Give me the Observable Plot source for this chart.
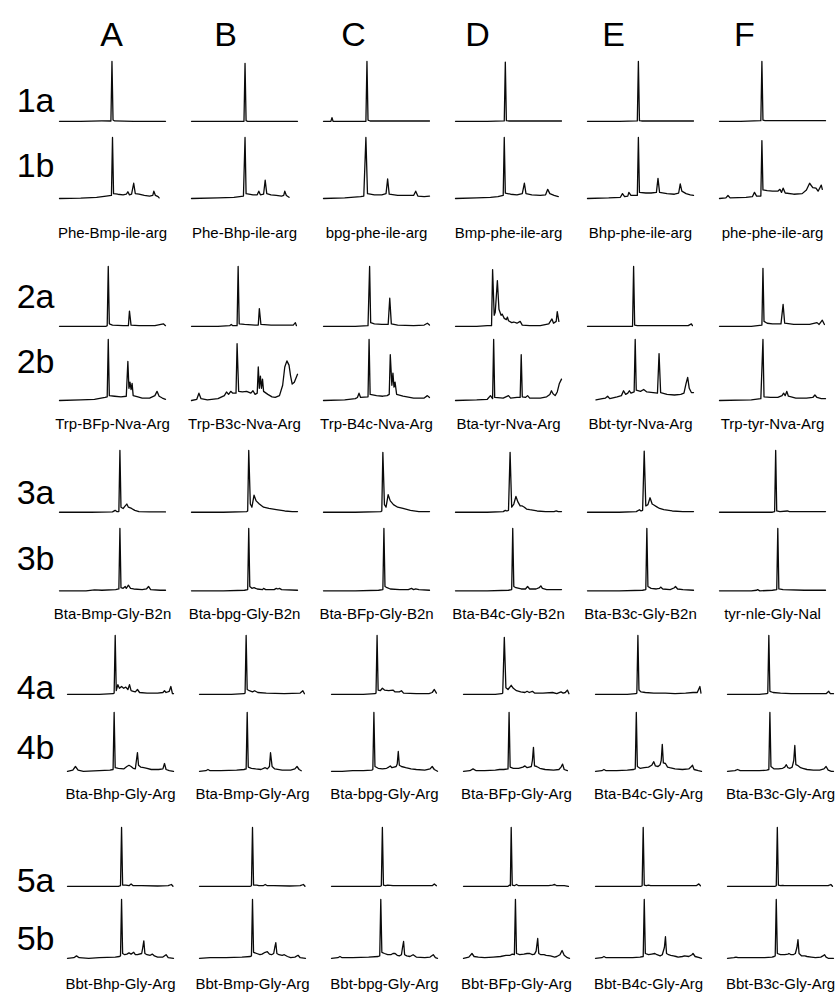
<!DOCTYPE html>
<html><head><meta charset="utf-8">
<script src="https://cdn.jsdelivr.net/npm/d3@7"></script>
<script src="https://cdn.jsdelivr.net/npm/@observablehq/plot@0.6"></script>
<style>
body{margin:0;background:#fff;}
#chart{position:relative;width:840px;height:994px;overflow:hidden;background:#fff}
#chart svg{position:absolute;left:0;}
</style></head><body><div id="chart"></div>
<script>
// ---------- DATA ----------
const columnLetters = ["A","B","C","D","E","F"];
const rowLabels = [["1a","1b"],["2a","2b"],["3a","3b"],["4a","4b"],["5a","5b"]];
const compoundNames = [
  ["Phe-Bmp-ile-arg","Phe-Bhp-ile-arg","bpg-phe-ile-arg","Bmp-phe-ile-arg","Bhp-phe-ile-arg","phe-phe-ile-arg"],
  ["Trp-BFp-Nva-Arg","Trp-B3c-Nva-Arg","Trp-B4c-Nva-Arg","Bta-tyr-Nva-Arg","Bbt-tyr-Nva-Arg","Trp-tyr-Nva-Arg"],
  ["Bta-Bmp-Gly-B2n","Bta-bpg-Gly-B2n","Bta-BFp-Gly-B2n","Bta-B4c-Gly-B2n","Bta-B3c-Gly-B2n","tyr-nle-Gly-Nal"],
  ["Bta-Bhp-Gly-Arg","Bta-Bmp-Gly-Arg","Bta-bpg-Gly-Arg","Bta-BFp-Gly-Arg","Bta-B4c-Gly-Arg","Bta-B3c-Gly-Arg"],
  ["Bbt-Bhp-Gly-Arg","Bbt-Bmp-Gly-Arg","Bbt-bpg-Gly-Arg","Bbt-BFp-Gly-Arg","Bbt-B4c-Gly-Arg","Bbt-B3c-Gly-Arg"]
];
// each trace: flat list of (retention %, relative signal %) pairs, columns A..F
const trace1a = [
  [0,2, 20,2, 40,2.5, 48.5,2.5, 49.5,100, 50.5,4, 52,2.5, 70,2, 100,2],
  [0,2, 30,2, 49.5,2, 50.5,97, 51.5,3, 53,2, 100,2],
  [0,2, 7,2, 8,8, 9,2, 30,2, 40,2, 41,100, 42,4, 44,2.5, 100,2.5],
  [0,2, 30,2, 46,2.5, 47,99, 48,3, 50,2.5, 100,2.5],
  [0,2, 30,2, 47,2.5, 48,100, 49,3, 51,2.5, 100,2.5],
  [0,2, 20,2, 39,3, 40,100, 41,4, 43,3, 100,3]
];
const trace1b = [
  [0,0, 20,0.5, 35,2, 44,4, 49,5, 50,100, 51,8, 55,7, 60,6, 63,7, 64.5,11, 66,6, 68,7, 70,25, 71.5,8, 75,7, 80,5, 85,4, 88,5, 89,12, 90.5,5, 93,3, 94,1],
  [0,0, 25,1, 40,2, 49,4, 50.5,100, 51.5,8, 58,6, 62,6, 63.5,12, 65,6, 68,7, 69.5,30, 71,8, 75,6, 80,5, 85,4, 87,5, 88,12, 89.5,5, 92,2],
  [0,0, 20,1, 35,3, 38,4, 40,100, 41.5,8, 48,6, 55,6, 59,8, 60.5,32, 62,7, 70,5, 80,5, 85,5, 87,12, 89,4, 95,3, 100,4],
  [0,0, 20,1, 33,2, 40,3, 45,5, 46,100, 47,9, 52,7, 58,6, 63,8, 65,25, 66.5,8, 72,6, 80,5, 85,6, 87,15, 89,8, 93,5, 97,3],
  [0,0, 20,1, 31,2, 33,8, 35,3, 38,4, 39,10, 41,5, 47,5, 48,100, 49,10, 55,9, 60,9, 65,10, 66.5,33, 68,10, 75,8, 82,7, 86,9, 87.5,24, 89,12, 93,8, 97,6, 100,5],
  [0,0, 6,1, 8,5, 10,1, 25,2, 31,3, 33,10, 35,4, 39,4, 40,95, 41,14, 45,13, 50,12, 55,12, 57,15, 58.5,10, 60,17, 62,9, 70,7, 78,8, 82,14, 85,25, 88,18, 91,17, 93,12, 96,22, 97,15]
];
const trace2a = [
  [0,2, 30,2, 44,2, 45,3, 46,100, 47,6, 50,4, 60,3, 65,3, 66,27, 67.5,4, 75,3, 90,3, 98,6, 100,3],
  [0,2, 25,2, 36,3, 37.5,5, 39,3, 43,3, 44,100, 45,6, 50,5, 60,4, 63,4, 64,31, 65.5,5, 75,4, 90,4, 96,4, 98,8, 99,3],
  [0,2, 30,2, 42,3, 43.5,100, 44.5,8, 48,6, 55,5, 61,5, 62.5,48, 64,6, 70,4, 85,3, 95,4, 98,7, 100,4],
  [0,2, 20,2, 30,3, 34,3, 35,95, 36.5,20, 37.5,25, 39.5,77, 41,30, 43,20, 44,22, 46,15, 48,13, 49,17, 50,11, 53,8, 55,9, 58,7, 61,10, 63,4, 70,3, 80,3, 88,6, 91,14, 92.5,7, 95,10, 96,26, 97.5,10],
  [0,2, 30,2, 42.5,2, 43.5,100, 44.5,4, 47,3, 70,3, 95,3, 98,6, 99,3],
  [0,2, 30,2, 40,4, 41,97, 42,10, 45,7, 50,6, 58,6, 60,38, 61.5,7, 70,5, 85,5, 92,8, 94,5, 97,12, 99,5]
];
const trace2b = [
  [0,0, 20,1, 33,2, 43,5, 45,6, 46,100, 47,8, 52,7, 58,6, 63,7, 64.5,64, 65.5,20, 66.5,30, 67.5,18, 68.5,28, 69.5,8, 74,6, 78,4, 85,4, 90,8, 92,15, 94,7, 97,4, 100,2],
  [0,0, 5,2, 7,12, 9,3, 15,1, 25,3, 31,8, 33,14, 35,10, 37,15, 39,12, 42,12, 43,93, 44.5,15, 48,14, 52,15, 56,12, 58,16, 60,10, 62,12, 63,55, 64,20, 65,40, 66,20, 67,35, 68,15, 72,10, 76,6, 79,5, 83,8, 86,25, 88,55, 90,65, 92,58, 93.5,40, 95,27, 97,30, 100,43],
  [0,0, 20,1, 30,3, 32,5, 33.5,12, 35,5, 42,6, 43,100, 44,10, 50,8, 56,7, 60,8, 62,10, 63,75, 64.5,25, 65.5,45, 66.5,22, 67.5,30, 69,10, 75,7, 85,4, 95,4, 98,8, 100,5],
  [0,0, 20,1, 30,2, 33,8, 35,3, 36,100, 37,5, 45,4, 50,8, 52,4, 58,5, 61,5, 62,75, 63,6, 66,5, 68,8, 70,4, 80,4, 86,6, 89,10, 90.5,16, 92,11, 94,8, 96,14, 98,28, 100,35],
  [8,1, 14,3, 17,4, 19,7, 21,3, 28,6, 32,8, 34,16, 36,10, 38,12, 39.5,16, 41,12, 44,14, 45,100, 46,17, 50,15, 53,18, 56,14, 62,13, 66,12, 67.5,77, 69,13, 75,10, 82,9, 88,10, 91,12, 93,28, 94.5,38, 96,20, 98,13, 100,13],
  [0,0, 30,1, 39,3, 41,100, 42,6, 48,5, 55,5, 59,8, 60.5,12, 62,8, 63.5,15, 65,7, 72,4, 82,4, 88,5, 90,9, 92,5, 96,3, 100,3]
];
const trace3a = [
  [0,2, 30,2, 50,2.5, 52.5,5, 54,3, 56,3, 57,100, 58,10, 60,8, 62,12, 63.5,15, 65,10, 68,8, 71,5, 75,3, 85,2.5, 100,2.5],
  [0,2, 30,2, 52,3, 53,4, 54,100, 55.5,15, 57,10, 59,29, 61,20, 64,15, 68,10, 73,8, 80,6, 88,4, 95,3, 100,3],
  [0,2, 30,2, 54,3, 55,4, 56,97, 57.5,14, 59,10, 61,30, 63,20, 66,14, 70,10, 75,8, 82,5, 90,3, 100,3],
  [0,2, 30,2, 45,3, 47,5, 48.5,4, 50,5, 51.5,97, 53,10, 55,15, 57,27, 59,18, 61,12, 63,12, 65,10, 67,7, 70,6, 77,4, 85,3, 93,3, 95,4, 97,3, 100,3],
  [0,2, 30,2, 46,3, 49,6, 50.5,4, 52,5, 53.5,99, 55,12, 57,14, 59,25, 61,15, 63,13, 65,11, 68,8, 72,6, 80,4, 90,3, 100,3],
  [0,2, 30,2, 50,2, 52,3, 53,100, 54,4, 57,3, 64,4, 66,3, 100,3]
];
const trace3b = [
  [0,1, 25,1, 33,2.5, 40,2, 53,3, 56,4, 57,100, 58,6, 60,5, 62,8, 63,5, 65,10, 67,5, 70,4, 78,3, 82,4, 84,8, 86,3, 95,2, 100,2],
  [0,1, 30,1, 50,2, 53,3, 54,100, 55,8, 57,5, 59,6, 62,4, 67,3, 68,5, 70,3, 78,3, 80,5, 81.5,4, 83,5, 85,3, 100,2],
  [0,1, 30,1, 52,2, 56,3, 57,100, 58,8, 60,6, 63,4, 72,3, 80,3, 83,5, 85,3, 87,4, 90,3, 100,2],
  [0,1, 30,1, 50,2, 53,3, 54,100, 55,8, 57,6, 62,4, 66,4, 68,8, 70,4, 76,4, 79,6, 80.5,9, 82,5, 86,3, 100,3],
  [0,1, 30,1, 52,2, 55,3, 56,100, 57,8, 60,5, 65,4, 68,5, 69,7, 71,4, 78,3, 82,6, 83,8, 85,4, 90,3, 100,2],
  [0,1, 30,1, 35,2, 36,3, 38,1, 50,2, 54,3, 55,100, 56,4, 60,3, 80,2, 100,2]
];
const trace4a = [
  [0,2, 30,2, 43,3, 44,4, 45,100, 46,8, 47.5,18, 49,12, 51,15, 53,12, 55,14, 57,10, 58.5,18, 60,8, 62,7, 64,6, 66,10, 68,5, 75,4, 85,4, 90,5, 91.5,8, 93,5, 96,7, 97.5,15, 99,3, 100,3],
  [0,2, 30,2, 42,3, 43,4, 44,100, 45,10, 47,8, 50,6, 52,8, 55,5, 63,4, 80,3, 95,4, 97.5,8, 99,3],
  [0,2, 30,2, 41,3, 42,4, 43,100, 44,9, 46,8, 48,12, 50,9, 54,8, 58,9, 60,6, 64,6, 66,8, 68,4, 80,3, 92,3, 95,5, 97,10, 99,4],
  [0,2, 30,2, 36,3, 37,4, 38.5,97, 40,13, 42,10, 45,17, 47,12, 50,8, 54,6, 58,5, 60,7, 62,5, 65,7, 67,4, 75,4, 84,5, 88,3, 92,6, 94,4, 96,5, 98,9, 99.5,3],
  [0,2, 30,2, 38,3, 39,4, 40,100, 41,9, 43,6, 47,5, 55,4, 66,4, 75,3, 85,4, 92,5, 96,5, 98.5,15, 99.5,4],
  [0,2, 30,2, 37,3, 38,4, 39,100, 40,7, 43,5, 50,4, 60,3, 80,3, 93,3, 95.5,7, 97,3, 100,3]
];
const trace4b = [
  [0,2, 5,4, 7.5,10, 10,4, 15,2, 30,3, 40,4, 43,5, 44,100, 45,8, 48,7, 53,6, 56,10, 58,12, 60,10, 62,7, 64,6, 65,20, 66,33, 67,12, 69,9, 72,8, 75,7, 79,5, 86,5, 90,6, 91.5,15, 93,5, 96,3, 100,2],
  [0,2, 6,3, 8,5, 10,3, 20,3, 35,4, 42,5, 44,6, 45,100, 46,9, 49,7, 53,6, 58,5, 62,8, 64,6, 66,10, 67,33, 68.5,10, 71,6, 78,4, 86,4, 90,6, 92,10, 94,5, 96,3],
  [0,2, 10,2, 20,3, 30,3, 38,4, 39,5, 40,100, 41,10, 44,7, 48,6, 52,7, 54,9, 55.5,11, 57,8, 59,9, 61,10, 62,14, 63,35, 64,12, 66,10, 70,8, 75,6, 80,5, 88,4, 93,6, 95,10, 97,5, 100,2],
  [0,2, 6,3, 9,6, 12,3, 20,3, 30,4, 34,5, 38,5, 42,6, 43,100, 44,9, 47,7, 52,7, 56,9, 58,11, 60,8, 62,9, 64,10, 65,20, 66,42, 67,11, 69,10, 72,7, 77,5, 85,4, 90,5, 92,9, 93.5,14, 95,5, 98,3],
  [0,2, 6,3, 8,5, 10,3, 20,3, 30,4, 36,5, 37.5,6, 38.5,100, 39.5,10, 42,7, 46,8, 50,9, 53,12, 55,18, 56.5,11, 59,10, 61,13, 62,20, 63,47, 64,16, 66,15, 68,9, 70,8, 75,6, 82,5, 88,6, 90,9, 91.5,12, 93,5, 97,3, 100,2],
  [0,2, 7,3, 9.5,5, 12,3, 20,3, 30,3, 37,4, 39,5, 40,100, 41,10, 44,6, 48,6, 52,7, 54,9, 55.5,13, 57,8, 59,7, 61,9, 62.5,20, 63.5,45, 64.5,13, 66,12, 69,8, 71,7, 75,5, 81,4, 87,4, 91,6, 93,10, 95,4, 98,2, 100,2]
];
const trace5a = [
  [0,2, 30,2, 48,2, 50,3, 51,100, 52,4, 55,4, 58,3, 60,6, 62,3, 70,3, 85,2.5, 95,3, 98,5, 99.5,2],
  [0,2, 30,2, 48,2, 49,3, 50,100, 51,4, 54,4, 56,3, 60,3, 62,5, 64,3, 70,3, 85,2.5, 95,3, 98,5, 99.5,2],
  [0,2, 30,2, 46,2, 47,3, 48,100, 49,4, 51,3, 53,4, 58,3, 80,3, 95,3, 97,6, 99,3],
  [0,2, 30,2, 42,2, 43.5,4, 44.2,3, 45,100, 46,4, 48,3, 50,5, 52,3, 70,3, 80,3, 84,4, 86,5, 88,3, 95,3, 99,2],
  [0,2, 30,2, 43,2, 44,3, 45,100, 46,4, 48,3, 50,4, 52,3, 70,3, 90,3, 95,3, 97.5,6, 99,3],
  [0,2, 30,2, 45,2, 46,3, 47,100, 48,4, 50,3, 52,3.5, 54,3, 80,3, 95,3, 97.5,5, 99,2]
];
const trace5b = [
  [0,2, 6,3, 8.5,6, 11,3, 20,2, 30,3, 45,4, 49,5, 50,6, 51,100, 52,10, 54,8, 56,9, 58,11, 60,9, 62.5,12, 64,8, 66,8, 70,10, 71,20, 72,31, 73,10, 75,8, 78,7, 80,9, 82,6, 85,4, 90,4, 93,8, 95,3, 100,2],
  [0,2, 10,3, 25,3, 40,4, 48,5, 49,6, 50,100, 51,12, 54,10, 57,8, 59,9, 62,12, 64,13, 66,9, 68,8, 70,10, 71,20, 72,28, 73,10, 75,8, 78,7, 80,8, 83,5, 86,3, 90,4, 93,7, 95,3, 100,2],
  [0,2, 6,3, 8,5, 10,3, 20,3, 35,4, 44,5, 45.5,6, 46.5,100, 47.5,12, 50,10, 53,8, 56,8, 58,10, 60,10, 62,7, 64,6, 66,8, 67,20, 68,30, 69,8, 71,6, 74,5, 77,8, 80,4, 88,3, 93,4, 96,8, 98,3, 100,2],
  [0,2, 5,4, 8,10, 10,5, 14,4, 20,3, 28,4, 35,5, 40,7, 44,7, 46,9, 48,8, 49,100, 50,10, 53,8, 57,9, 60,10, 62.5,10, 65,8, 67,9, 68.5,14, 70,35, 71,10, 73,8, 76,8, 78,7, 82,6, 86,4, 88,5, 91,8, 93,15, 95,7, 98,3, 100,2],
  [0,2, 6,3, 8,5, 10,3, 20,3, 35,3, 42,4, 45,5, 46,100, 47,10, 50,8, 53,9, 56,10, 58,8, 61,6, 63,8, 65,20, 66,38, 67,10, 69,8, 71,7, 73.5,6, 76,5, 78,4, 82,5, 84,6, 88,5, 91,8, 92,10, 94,5, 98,3, 100,2],
  [0,2, 6,3, 8,4, 10,3, 20,3, 35,3, 42,4, 44,5, 45,6, 46,100, 47,10, 50,8, 54,8, 57,9, 58,10, 60,8, 62,8, 64,10, 65.5,20, 66.5,33, 67.5,10, 70,6, 73,6, 75,5, 79,4, 83,3, 88,4, 90,6, 91.5,8, 93,4, 95,2, 100,2]
];
const traces = [[trace1a, trace1b], [trace2a, trace2b], [trace3a, trace3b], [trace4a, trace4b], [trace5a, trace5b]];

// ---------- LAYOUT (pixels) ----------
const layout = [
  {top: 61,  bottom: 198, gap: 15, left: 58, labelPad: 29, rowPad: 5,  rowDy: [9, -2]},
  {top: 266, bottom: 400, gap: 12, left: 58, labelPad: 18, rowPad: 5,  rowDy: [0, -8]},
  {top: 450, bottom: 591, gap: 15, left: 58, labelPad: 17, rowPad: 5,  rowDy: [11, -1]},
  {top: 635, bottom: 772, gap: 17, left: 66, labelPad: 16, rowPad: 13, rowDy: [23, 6]},
  {top: 827, bottom: 959, gap: 12, left: 66, labelPad: 19, rowPad: 13, rowDy: [24, 10]}
];
const letterDx = [-1, -19, -23, -31, -27, -28];
const FONT = "Arial, 'Liberation Sans', Helvetica, sans-serif";
const chart = document.getElementById("chart");

layout.forEach((L, g) => {
  const rows = [];
  traces[g].forEach((rowTraces, r) => rowTraces.forEach((arr, c) => {
    for (let i = 0; i < arr.length; i += 2)
      rows.push({fx: compoundNames[g][c], fy: rowLabels[g][r], t: arr[i], v: arr[i + 1]});
  }));
  const svgTop = g === 0 ? 0 : L.top - 6;
  const marginTop = L.top - svgTop;
  const inner = L.bottom - L.top;
  const bw = (inner - L.gap) / 2;
  const marginBottom = L.labelPad + 22;
  const height = marginTop + inner + marginBottom;
  const plotW = 768.5;
  const marks = [
    Plot.axisFx({anchor: "bottom", tickSize: 0, tickPadding: L.labelPad, fontSize: 15, label: null}),
    ...rowLabels[g].map((lab, r) => Plot.axisFy({anchor: "left", ticks: [lab], tickSize: 0, tickPadding: L.rowPad, fontSize: 34, dy: L.rowDy[r], label: null})),
    Plot.line(rows, {x: "t", y: "v", fx: "fx", fy: "fy", stroke: "#0a0a0a", strokeWidth: 1.3})
  ];
  if (g === 0) {
    columnLetters.forEach((letter, c) => marks.push(
      Plot.axisFx({anchor: "top", ticks: [compoundNames[0][c]], tickFormat: () => letter, tickSize: 0, tickPadding: 16, fontSize: 34, dx: letterDx[c], label: null})
    ));
  }
  const svg = Plot.plot({
    width: 840, height,
    marginTop, marginBottom, marginLeft: L.left, marginRight: 840 - L.left - plotW,
    style: {fontFamily: FONT, background: "transparent", color: "#000"},
    x: {domain: [0, 100], axis: null},
    y: {domain: [0, 100], axis: null},
    fx: {domain: compoundNames[g], paddingInner: 0.2, paddingOuter: 0, label: null},
    fy: {domain: rowLabels[g], paddingInner: L.gap / (bw + L.gap), paddingOuter: 0, label: null},
    marks
  });
  svg.style.position = "absolute";
  svg.style.top = svgTop + "px";
  svg.style.left = "0px";
  chart.appendChild(svg);
});
</script></body></html>
